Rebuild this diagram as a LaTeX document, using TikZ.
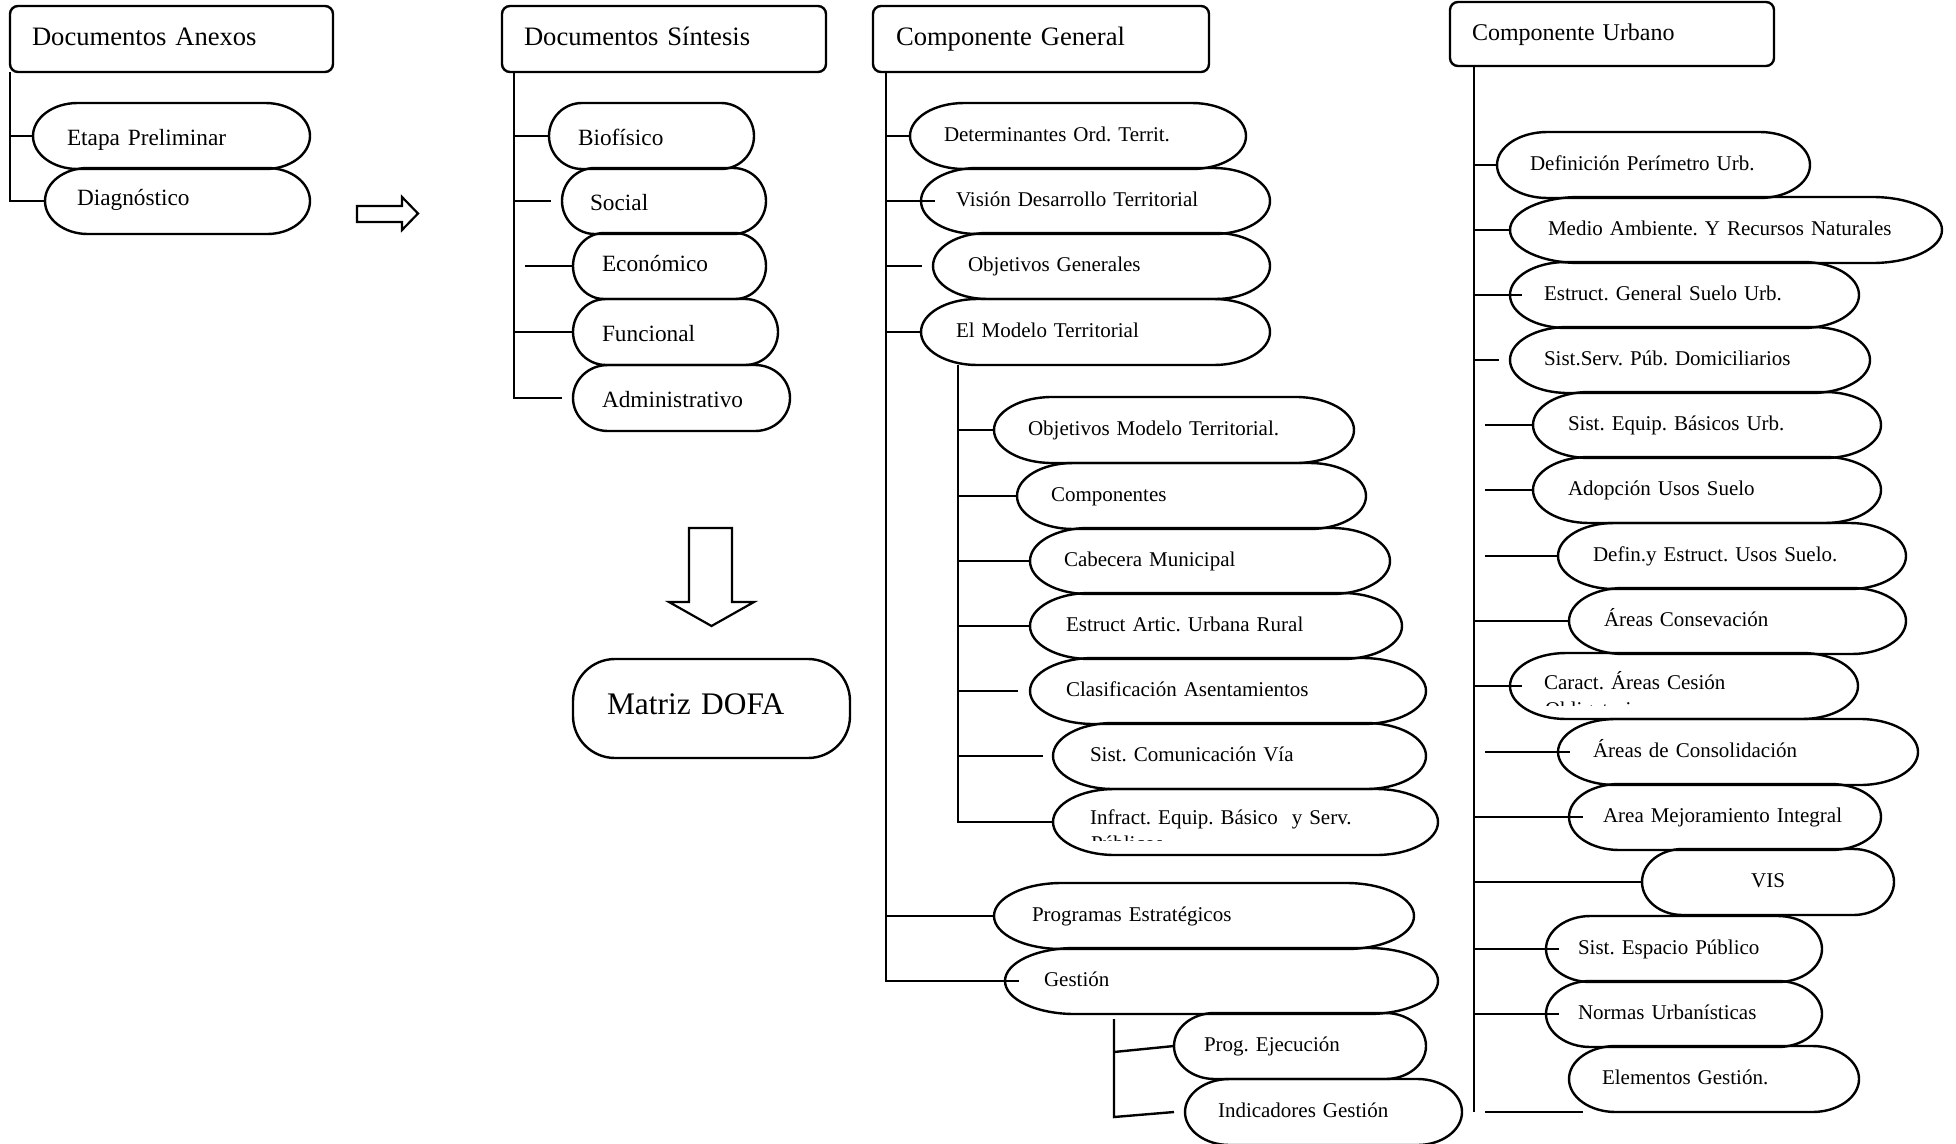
\documentclass[tikz,border=0pt]{standalone}
\usepackage{fontspec}
\setmainfont{Liberation Serif}
\usepackage{tikz}

\begin{document}
\frenchspacing
\begin{tikzpicture}[x=1pt, y=-1pt, line width=2.4pt,
    bx/.style 2 args={anchor=west, outer sep=0pt, inner ysep=0pt, align=left,
        minimum height=66pt, inner xsep=#2, text width=#1-2*#2},
    pill/.style 2 args={bx={#1}{#2}, append after command={\pgfextra{
        \draw ([xshift=0.161*#1pt]\tikzlastnode.north west) -- ([xshift=-0.161*#1pt]\tikzlastnode.north east)
            arc[start angle=90, end angle=-90, x radius=0.161*#1pt, y radius=33pt]
            -- ([xshift=0.161*#1pt]\tikzlastnode.south west)
            arc[start angle=270, end angle=90, x radius=0.161*#1pt, y radius=33pt] -- cycle;}}},
    hdr/.style={draw, rounded corners=8pt, font=\fontsize{26.6}{30}\selectfont, text height=19pt, text depth=6pt},
    bigtxt/.style={font=\fontsize{23.3}{27}\selectfont, text height=23pt, text depth=5pt},
    smalltxt/.style={font=\fontsize{21}{24}\selectfont, text height=15pt, text depth=4.5pt}]

    \path[use as bounding box, fill=white] (0,0) rectangle (1956,1143);

    \node[bx={323}{22}, hdr] (anx) at (10,39) {Documentos Anexos};
    \node[pill={277}{34}, bigtxt] (eta) at (33,136) {Etapa Preliminar};
    \node[pill={265}{32}, bigtxt, text height=13pt] (dia) at (45,201) {Diagnóstico};

    \node[bx={324}{22}, hdr] (sin) at (502,39) {Documentos Síntesis};
    \node[pill={205}{29}, bigtxt] (bio) at (549,136) {Biofísico};
    \node[pill={204}{28}, bigtxt] (soc) at (562,201) {Social};
    \node[pill={193}{29}, bigtxt, text height=16.5pt] (eco) at (573,266) {Económico};
    \node[pill={205}{29}, bigtxt] (fun) at (573,332) {Funcional};
    \node[pill={217}{29}, bigtxt] (adm) at (573,398) {Administrativo};

    \node[bx={277}{34}, draw, rounded corners=42pt, minimum height=99pt,
        font=\fontsize{31.4}{36}\selectfont, text height=22pt, text depth=10pt] (dofa) at (573,708.5) {Matriz DOFA};

    \node[bx={336}{23}, hdr] (gen) at (873,39) {Componente General};
    \node[pill={336}{34}, smalltxt] (det) at (910,136) {Determinantes Ord. Territ.};
    \node[pill={349}{35}, smalltxt] (vdt) at (921,201) {Visión Desarrollo Territorial};
    \node[pill={337}{35}, smalltxt] (obg) at (933,266) {Objetivos Generales};
    \node[pill={349}{35}, smalltxt] (mod) at (921,332) {El Modelo Territorial};
    \node[pill={360}{34}, smalltxt] (omt) at (994,430) {Objetivos Modelo Territorial.};
    \node[pill={349}{34}, smalltxt] (cmp) at (1017,496) {Componentes};
    \node[pill={360}{34}, smalltxt] (cab) at (1030,561) {Cabecera Municipal};
    \node[pill={372}{36}, smalltxt] (est) at (1030,626) {Estruct Artic. Urbana Rural};
    \node[pill={396}{36}, smalltxt] (cla) at (1030,691) {Clasificación Asentamientos};
    \node[pill={373}{37}, smalltxt] (sco) at (1053,756) {Sist. Comunicación Vía};
    \node[pill={385}{37}, smalltxt, text depth=11pt] (inf) at (1053,822) {Infract. Equip. Básico~ y Serv.};
    \node[pill={420}{38}, smalltxt] (pro) at (994,916) {Programas Estratégicos};
    \node[pill={433}{39}, smalltxt] (ges) at (1005,981) {Gestión};
    \node[pill={252}{30}, smalltxt] (pej) at (1174,1046) {Prog. Ejecución};
    \node[pill={277}{33}, smalltxt] (ind) at (1185,1112) {Indicadores Gestión};

    \node[bx={324}{22}, hdr, minimum height=64pt, font=\fontsize{24}{28}\selectfont,
        text height=17pt, text depth=5pt] (urb) at (1450,34) {Componente Urbano};
    \node[pill={313}{33}, smalltxt] (def) at (1497,165) {Definición Perímetro Urb.};
    \node[pill={432}{38}, smalltxt] (med) at (1510,230) {Medio Ambiente. Y Recursos Naturales};
    \node[pill={349}{34}, smalltxt] (esg) at (1510,295) {Estruct. General Suelo Urb.};
    \node[pill={360}{34}, smalltxt] (ssp) at (1510,360) {Sist.Serv. Púb. Domiciliarios};
    \node[pill={348}{35}, smalltxt] (seq) at (1533,425) {Sist. Equip. Básicos Urb.};
    \node[pill={348}{35}, smalltxt] (ado) at (1533,490) {Adopción Usos Suelo};
    \node[pill={348}{35}, smalltxt] (dfe) at (1558,556) {Defin.y Estruct. Usos Suelo.};
    \node[pill={337}{35}, smalltxt] (acn) at (1569,621) {Áreas Consevación};
    \node[pill={348}{34}, smalltxt, text depth=9pt] (car) at (1510,686) {Caract. Áreas Cesión};
    \node[pill={360}{35}, smalltxt] (aco) at (1558,752) {Áreas de Consolidación};
    \node[pill={312}{34}, smalltxt] (ame) at (1569,817) {Area Mejoramiento Integral};
    \node[pill={252}{34}, smalltxt, align=center] (vis) at (1642,882) {VIS};
    \node[pill={276}{32}, smalltxt] (sep) at (1546,949) {Sist. Espacio Público};
    \node[pill={276}{32}, smalltxt] (nor) at (1546,1014) {Normas Urbanísticas};
    \node[pill={290}{33}, smalltxt] (ele) at (1569,1079) {Elementos Gestión.};

    \begin{scope}
        \clip (1060,830) rectangle (1420,840.5);
        \node[anchor=base west, inner sep=0pt, font=\fontsize{21}{24}\selectfont] (infB) at (1090,850) {Públicos};
    \end{scope}
    \begin{scope}
        \clip (1520,695) rectangle (1850,705.5);
        \node[anchor=base west, inner sep=0pt, font=\fontsize{21}{24}\selectfont] (carB) at (1544,716) {Obligatorias};
    \end{scope}

    \draw[line width=2.2pt] (357,206) -- (402,206) -- (402,197) -- (418,213.5) -- (402,230) -- (402,222) -- (357,222) -- cycle;
    \draw[line width=2.2pt] (689,528) -- (732,528) -- (732,602) -- (754,602) -- (711.5,626) -- (669,602) -- (689,602) -- cycle;

    \draw (anx.south west) -- (anx.south west |- dia.west) -- (dia.west);
    \draw (anx.south west |- eta.west) -- (eta.west);

    \coordinate (sS) at ([xshift=12pt]sin.south west);
    \draw (sS) -- (sS |- adm.west) -- ([xshift=-11pt]adm.west);
    \draw (sS |- bio.west) -- (bio.west);
    \draw (sS |- soc.west) -- ([xshift=-11pt]soc.west);
    \draw ([xshift=11pt]sS |- eco.west) -- (eco.west);
    \draw (sS |- fun.west) -- (fun.west);

    \coordinate (gS) at ([xshift=13pt]gen.south west);
    \draw (gS) -- (gS |- ges.west) -- ([xshift=14pt]ges.west);
    \draw (gS |- det.west) -- (det.west);
    \draw (gS |- vdt.west) -- ([xshift=14pt]vdt.west);
    \draw (gS |- obg.west) -- ([xshift=-11pt]obg.west);
    \draw (gS |- mod.west) -- (mod.west);
    \draw (gS |- pro.west) -- (pro.west);

    \coordinate (mS) at ([xshift=37pt]mod.south west);
    \draw (mS) -- (mS |- inf.west) -- (inf.west);
    \draw (mS |- omt.west) -- (omt.west);
    \draw (mS |- cmp.west) -- (cmp.west);
    \draw (mS |- cab.west) -- (cab.west);
    \draw (mS |- est.west) -- (est.west);
    \draw (mS |- cla.west) -- ([xshift=-12pt]cla.west);
    \draw (mS |- sco.west) -- ([xshift=-10pt]sco.west);

    \coordinate (eS) at ([xshift=109pt, yshift=-5pt]ges.south west);
    \draw (eS) -- ++(0,98) -- ([xshift=-11pt]ind.west);
    \draw ([yshift=-6pt]eS |- pej.west) -- (pej.west);

    \coordinate (uS) at ([xshift=24pt]urb.south west);
    \draw (uS) -- (uS |- ele.south);
    \draw (uS |- def.west) -- (def.west);
    \draw (uS |- med.west) -- (med.west);
    \draw (uS |- esg.west) -- ([xshift=12pt]esg.west);
    \draw (uS |- ssp.west) -- ([xshift=-11pt]ssp.west);
    \draw ([xshift=11pt]uS |- seq.west) -- (seq.west);
    \draw ([xshift=11pt]uS |- ado.west) -- (ado.west);
    \draw ([xshift=11pt]uS |- dfe.west) -- (dfe.west);
    \draw (uS |- acn.west) -- (acn.west);
    \draw (uS |- car.west) -- ([xshift=12pt]car.west);
    \draw ([xshift=11pt]uS |- aco.west) -- ([xshift=12pt]aco.west);
    \draw (uS |- ame.west) -- ([xshift=14pt]ame.west);
    \draw (uS |- vis.west) -- (vis.west);
    \draw (uS |- sep.west) -- ([xshift=13pt]sep.west);
    \draw (uS |- nor.west) -- ([xshift=13pt]nor.west);
    \draw ([xshift=11pt]uS |- ele.south) -- ([xshift=14pt]ele.south west);
\end{tikzpicture}
\end{document}
